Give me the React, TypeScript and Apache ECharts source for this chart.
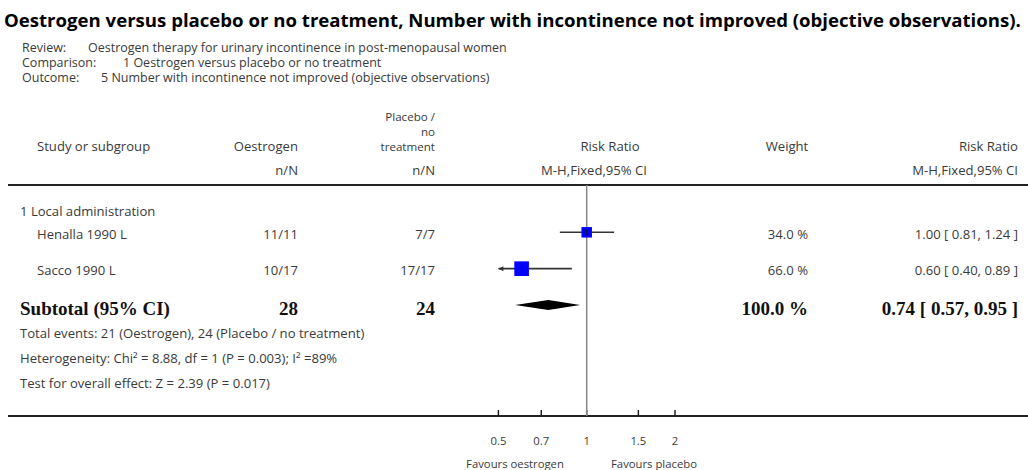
import React, { useEffect, useRef } from "react";
import * as echarts from "echarts";

// ---------- data ----------
const TITLE = "Oestrogen versus placebo or no treatment, Number with incontinence not improved (objective observations).";
const META_LABELS = ["Review:", "Comparison:", "Outcome:"];
const META_VALUES = [
  "Oestrogen therapy for urinary incontinence in post-menopausal women",
  "1 Oestrogen versus placebo or no treatment",
  "5 Number with incontinence not improved (objective observations)",
];
const PLACEBO_HEADER = ["Placebo /", "no", "treatment"];
const GROUP_LABEL = "1 Local administration";
const STUDIES = ["Henalla 1990 L", "Sacco 1990 L"];
const OESTROGEN_NN = ["11/11", "10/17"];
const PLACEBO_NN = ["7/7", "17/17"];
const RR = [1.0, 0.6];
const RR_LO = [0.81, 0.4];
const RR_HI = [1.24, 0.89];
const WEIGHTS = [34.0, 66.0];
const WEIGHT_LABELS = ["34.0 %", "66.0 %"];
const CI_LABELS = ["1.00 [ 0.81, 1.24 ]", "0.60 [ 0.40, 0.89 ]"];
const SUBTOTAL = { label: "Subtotal (95% CI)", oest: "28", plac: "24", rr: 0.74, lo: 0.57, hi: 0.95, weight: "100.0 %", ci: "0.74 [ 0.57, 0.95 ]" };
const FOOTER = [
  "Total events: 21 (Oestrogen), 24 (Placebo / no treatment)",
  "Heterogeneity: Chi² = 8.88, df = 1 (P = 0.003); I² =89%",
  "Test for overall effect: Z = 2.39 (P = 0.017)",
];
const TICKS = [0.5, 0.7, 1, 1.5, 2];
const TICK_LABELS = ["0.5", "0.7", "1", "1.5", "2"];
const FAVOURS = ["Favours oestrogen", "Favours placebo"];

// ---------- layout ----------
const W = 1028;
const H = 470;
const AX_MIN = 0.5;
const AX_MAX = 2;
const GRID_LEFT = 498.4;
const GRID_RIGHT_X = 675;
const GRID_TOP = 185;
const AXIS_Y = 416;
const Y_MIN = -1.3;
const Y_MAX = 5.05;
const ROW_H = (AXIS_Y - GRID_TOP) / (Y_MAX - Y_MIN);
const rowY = (i: number) => GRID_TOP + (i - Y_MIN) * ROW_H;

const BODY_FONT = "'Open Sans', Lato, sans-serif";
const BODY = `13.1px ${BODY_FONT}`;
const META = `12.5px ${BODY_FONT}`;
const HEAD3 = `11.6px ${BODY_FONT}`;
const SMALL = `11.3px ${BODY_FONT}`;
const TXT = "#3a3a3a";

function txt(text: string, x: number, y: number, opts: any = {}) {
  return {
    type: "text",
    silent: true,
    style: {
      text,
      x,
      y,
      fill: opts.fill || TXT,
      font: opts.font || BODY,
      textAlign: opts.align || "left",
      textVerticalAlign: "middle",
    },
  };
}

export default function App() {
  const ref = useRef<HTMLDivElement>(null);
  useEffect(() => {
    document.body.style.margin = "0";
    const chart = echarts.init(ref.current!, null, { renderer: "svg" });

    const graphics: any[] = [];
    graphics.push(txt(TITLE, 4, 19, { font: `bold 18.6px 'Open Sans', sans-serif`, fill: "#000" }));
    const metaX = [88, 123, 101];
    META_LABELS.forEach((l, i) => {
      graphics.push(txt(l, 22, 47 + i * 15.1, { font: META }));
      graphics.push(txt(META_VALUES[i], metaX[i], 47 + i * 15.1, { font: META }));
    });
    // header
    PLACEBO_HEADER.forEach((h, i) => graphics.push(txt(h, 435, 116.4 + i * 14.8, { align: "right", font: HEAD3 })));
    graphics.push(txt("Study or subgroup", 37, 146));
    graphics.push(txt("Oestrogen", 298, 146, { align: "right" }));
    graphics.push(txt("Risk Ratio", 610, 146, { align: "center" }));
    graphics.push(txt("Weight", 787, 146, { align: "center" }));
    graphics.push(txt("Risk Ratio", 1018, 146, { align: "right" }));
    graphics.push(txt("n/N", 298, 170, { align: "right" }));
    graphics.push(txt("n/N", 435, 170, { align: "right" }));
    graphics.push(txt("M-H,Fixed,95% CI", 594, 170, { align: "center" }));
    graphics.push(txt("M-H,Fixed,95% CI", 1018, 170, { align: "right" }));
    // header & axis lines
    graphics.push({ type: "line", silent: true, shape: { x1: 8, y1: GRID_TOP, x2: W, y2: GRID_TOP }, style: { stroke: "#222", lineWidth: 2 } });
    graphics.push({ type: "line", silent: true, shape: { x1: 8, y1: AXIS_Y, x2: W, y2: AXIS_Y }, style: { stroke: "#222", lineWidth: 2 } });
    // group + studies
    graphics.push(txt(GROUP_LABEL, 20, 211));
    STUDIES.forEach((s, i) => {
      const y = rowY(i) + 1.5;
      graphics.push(txt(s, 37, y));
      graphics.push(txt(OESTROGEN_NN[i], 298, y, { align: "right" }));
      graphics.push(txt(PLACEBO_NN[i], 435, y, { align: "right" }));
      graphics.push(txt(WEIGHT_LABELS[i], 808, y, { align: "right" }));
      graphics.push(txt(CI_LABELS[i], 1018, y, { align: "right" }));
    });
    const sy = rowY(2) + 3;
    const bold = `bold 19px 'Liberation Serif', 'Times New Roman', serif`;
    graphics.push(txt(SUBTOTAL.label, 20, sy, { font: bold, fill: "#111" }));
    graphics.push(txt(SUBTOTAL.oest, 298, sy, { font: bold, fill: "#111", align: "right" }));
    graphics.push(txt(SUBTOTAL.plac, 435, sy, { font: bold, fill: "#111", align: "right" }));
    graphics.push(txt(SUBTOTAL.weight, 808, sy, { font: bold, fill: "#111", align: "right" }));
    graphics.push(txt(SUBTOTAL.ci, 1018, sy, { font: bold, fill: "#111", align: "right" }));
    FOOTER.forEach((f, i) => graphics.push(txt(f, 20, 333 + i * 25)));
    graphics.push(txt(FAVOURS[0], 515, 463, { align: "center", font: SMALL }));
    graphics.push(txt(FAVOURS[1], 654, 463, { align: "center", font: SMALL }));

    const studyData = RR.map((r, i) => [r, RR_LO[i], RR_HI[i], WEIGHTS[i], i]);
    const tickData = TICKS.map((t) => [t, Y_MAX]);

    chart.setOption({
      animation: false,
      grid: { left: GRID_LEFT, right: W - GRID_RIGHT_X, top: GRID_TOP, bottom: H - AXIS_Y, containLabel: false },
      xAxis: { type: "log", logBase: 10, min: AX_MIN, max: AX_MAX, show: false },
      yAxis: { type: "value", min: Y_MIN, max: Y_MAX, inverse: true, show: false },
      graphic: { elements: graphics },
      series: [
        {
          type: "custom",
          name: "axis",
          silent: true,
          clip: false,
          encode: { x: 0, y: 1 },
          data: tickData,
          renderItem: (params: any, api: any) => {
            const v = api.value(0);
            const p = api.coord([v, Y_MAX]);
            const children: any[] = [
              { type: "line", shape: { x1: p[0], y1: p[1], x2: p[0], y2: p[1] - 6 }, style: { stroke: "#222", lineWidth: 1.5 } },
              {
                type: "text",
                style: {
                  text: TICK_LABELS[params.dataIndex],
                  x: p[0],
                  y: p[1] + 24,
                  textAlign: "center",
                  textVerticalAlign: "middle",
                  font: SMALL,
                  fill: TXT,
                },
              },
            ];
            if (v === 1) {
              const top = api.coord([1, Y_MIN]);
              children.push({ type: "line", shape: { x1: p[0], y1: top[1], x2: p[0], y2: p[1] }, style: { stroke: "#888", lineWidth: 1.5 } });
            }
            return { type: "group", children };
          },
        },
        {
          type: "custom",
          name: "studies",
          silent: true,
          clip: false,
          encode: { x: 0, y: 4 },
          data: studyData,
          z: 5,
          renderItem: (params: any, api: any) => {
            const r = api.value(0);
            const lo = api.value(1);
            const hi = api.value(2);
            const w = api.value(3);
            const row = api.value(4);
            const pr = api.coord([r, row]);
            const pl = api.coord([Math.max(lo, AX_MIN), row]);
            const ph = api.coord([Math.min(hi, AX_MAX), row]);
            const size = 1.8 * Math.sqrt(w);
            const children: any[] = [
              { type: "line", shape: { x1: pl[0], y1: pl[1], x2: ph[0], y2: ph[1] }, style: { stroke: "#333", lineWidth: 1.6 } },
              { type: "rect", shape: { x: pr[0] - size / 2, y: pr[1] - size / 2, width: size, height: size }, style: { fill: "#0000ff" } },
              { type: "line", shape: { x1: pr[0], y1: pr[1] - 3, x2: pr[0], y2: pr[1] + 3 }, style: { stroke: "#111", lineWidth: 1 } },
            ];
            if (lo < AX_MIN) {
              children.push({ type: "polygon", shape: { points: [[pl[0], pl[1]], [pl[0] + 5, pl[1] - 2.5], [pl[0] + 5, pl[1] + 2.5]] }, style: { fill: "#333" } });
            }
            if (hi > AX_MAX) {
              children.push({ type: "polygon", shape: { points: [[ph[0], ph[1]], [ph[0] - 5, ph[1] - 2.5], [ph[0] - 5, ph[1] + 2.5]] }, style: { fill: "#333" } });
            }
            return { type: "group", children };
          },
        },
        {
          type: "custom",
          name: "subtotal",
          silent: true,
          clip: false,
          encode: { x: 0, y: 3 },
          data: [[SUBTOTAL.rr, SUBTOTAL.lo, SUBTOTAL.hi, 2]],
          z: 5,
          renderItem: (params: any, api: any) => {
            const row = api.value(3);
            const pc = api.coord([api.value(0), row]);
            const pl = api.coord([api.value(1), row]);
            const ph = api.coord([api.value(2), row]);
            return {
              type: "polygon",
              shape: { points: [[pl[0], pl[1]], [pc[0], pc[1] - 5], [ph[0], ph[1]], [pc[0], pc[1] + 5]] },
              style: { fill: "#000" },
            };
          },
        },
      ],
    });
    return () => chart.dispose();
  }, []);
  return <div ref={ref} style={{ width: W, height: H }} />;
}
